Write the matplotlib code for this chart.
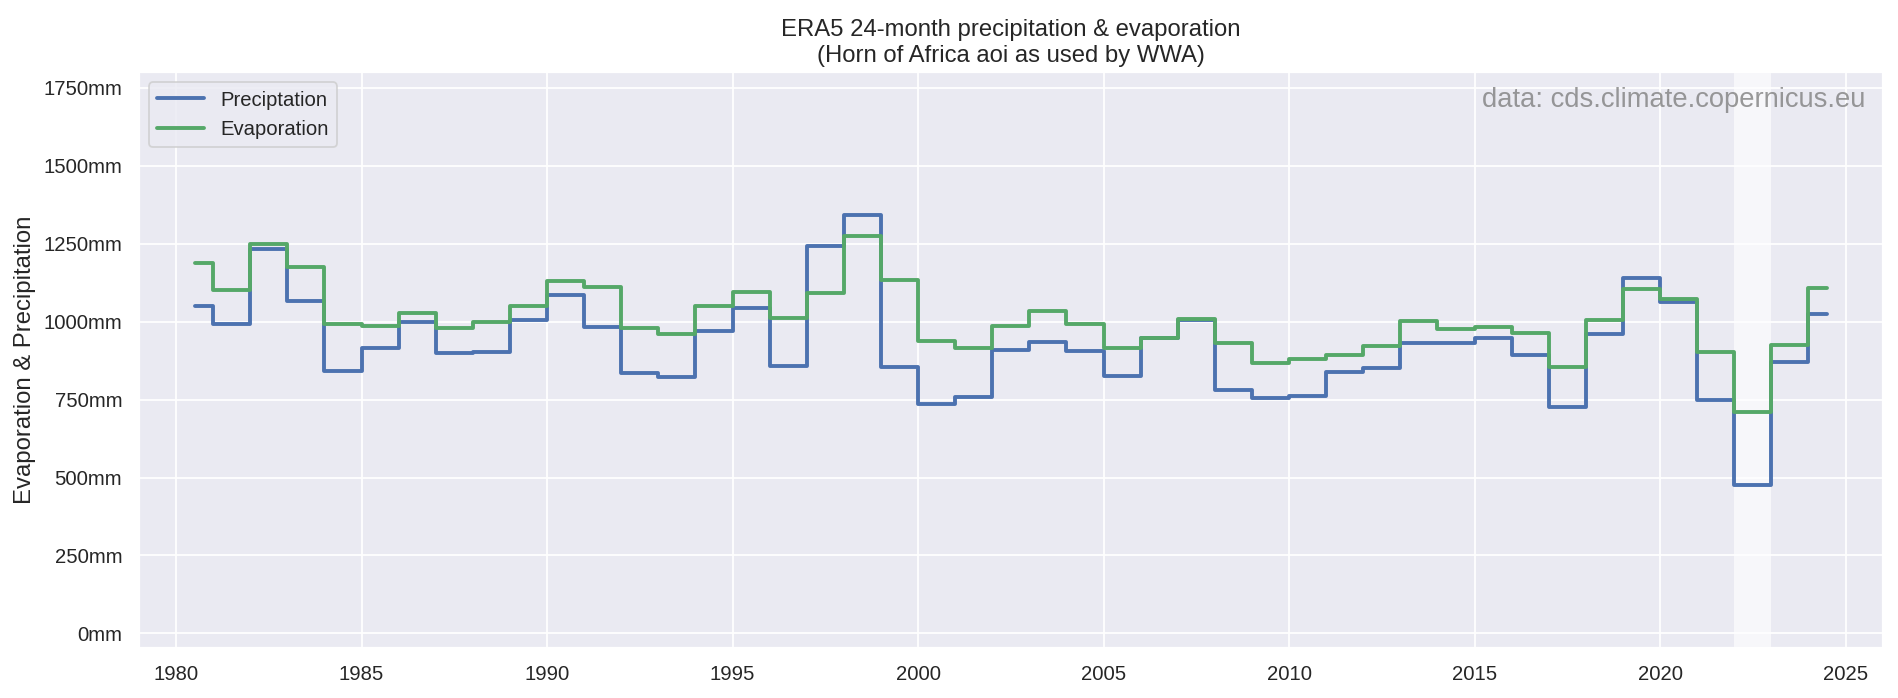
import matplotlib
matplotlib.use("Agg")
import matplotlib.pyplot as plt
import matplotlib.ticker as mticker
import numpy as np
import seaborn as sns

# 24-month totals (mm), one value per year, centred mid-year
years = np.arange(1980, 2025) + 0.5

precip = [1051, 992, 1232, 1067, 842, 914, 1000, 899, 904, 1005,
          1087, 984, 834, 823, 970, 1045, 858, 1244, 1341, 856,
          737, 758, 909, 936, 907, 827, 949, 1005, 780, 755,
          760, 837, 852, 931, 933, 946, 893, 726, 959, 1140,
          1063, 748, 476, 869, 1024]

evap = [1189, 1103, 1250, 1176, 992, 987, 1028, 981, 1000, 1051,
        1132, 1112, 981, 962, 1051, 1095, 1013, 1093, 1275, 1134,
        939, 914, 987, 1034, 994, 917, 946, 1010, 931, 866,
        880, 894, 923, 1001, 975, 984, 965, 856, 1005, 1105,
        1073, 903, 710, 924, 1109]

yticks = [0, 250, 500, 750, 1000, 1250, 1500, 1750]
xticks = [1980, 1985, 1990, 1995, 2000, 2005, 2010, 2015, 2020, 2025]
highlight = (2022, 2023)

sns.set_theme(style="darkgrid")
plt.rcParams['font.family'] = ['Liberation Sans', 'DejaVu Sans']

dpi = 127
fig, ax = plt.subplots(figsize=(1898 / dpi, 698 / dpi), dpi=dpi)
fig.subplots_adjust(left=0.0732, right=0.9919, bottom=0.0712, top=0.8964)

# highlighted year
ax.axvspan(highlight[0], highlight[1], color="white", alpha=0.65, lw=0)

ax.plot(years, precip, drawstyle="steps-mid", color="#4C72B0", lw=2.2, label="Preciptation")
ax.plot(years, evap, drawstyle="steps-mid", color="#55A868", lw=2.2, label="Evaporation")

ax.set_xlim(1979.0, 2026.0)
ax.set_xticks(xticks)
ax.set_ylim(-48, 1800)
ax.set_yticks(yticks)
ax.yaxis.set_major_formatter(mticker.FuncFormatter(lambda v, p: f"{v:.0f}mm"))
ax.tick_params(labelsize=11.5)

ax.set_ylabel("Evaporation & Precipitation", fontsize=13.5)
ax.set_title("ERA5 24-month precipitation & evaporation\n(Horn of Africa aoi as used by WWA)",
             fontsize=13.5)

ax.text(0.99, 0.975, "data: cds.climate.copernicus.eu", transform=ax.transAxes,
        ha="right", va="top", fontsize=15.5, color="gray", alpha=0.8)

ax.legend(loc="upper left", fontsize=11.5, handlelength=2.3)

fig.savefig("out.png", dpi=dpi)
